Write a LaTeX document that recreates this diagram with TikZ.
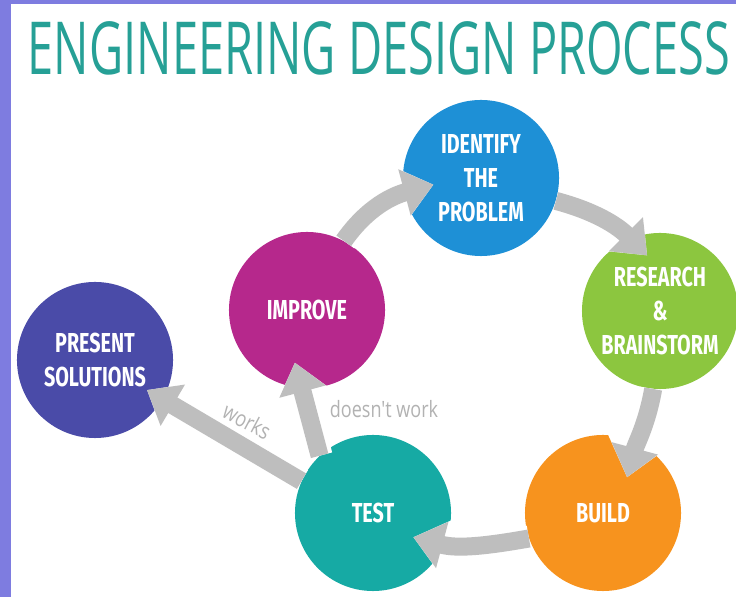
\documentclass[tikz,border=0pt]{standalone}
\usepackage{fontspec}
\usepackage{xcolor}
\usepackage{graphicx}
\usetikzlibrary{arrows.meta,calc}
\newfontfamily\stagefont{Fira Sans}[FakeStretch=0.72]
\newfontfamily\notefont{Open Sans}[FakeStretch=0.8]
\newfontfamily\headfont{Open Sans}
\definecolor{framepurple}{RGB}{126,124,224}
\definecolor{headteal}{RGB}{38,160,150}
\definecolor{flowgray}{RGB}{190,190,190}
\definecolor{notegray}{RGB}{178,178,178}
\definecolor{presentcol}{RGB}{74,75,168}
\definecolor{improvecol}{RGB}{182,40,140}
\definecolor{identifycol}{RGB}{30,144,214}
\definecolor{researchcol}{RGB}{140,198,63}
\definecolor{buildcol}{RGB}{247,147,30}
\definecolor{testcol}{RGB}{22,170,164}

\begin{document}
\begin{tikzpicture}[x=0.025cm, y=0.025cm,
  stage/.style={circle, minimum size=3.9cm, inner sep=0pt, text=white, align=center,
    font=\stagefont\bfseries\fontsize{19.5}{24}\selectfont},
  flow/.style={draw=flowgray, line width=0.45cm, -{Triangle[length=0.75cm,width=1.15cm]},
    preaction={draw=white, line width=0.65cm, -{Triangle[length=1.0cm,width=1.55cm]}}},
  note/.style={text=notegray, font=\notefont\fontsize{16}{18}\selectfont}]
\useasboundingbox (0,0) rectangle (736,597);
\fill[white] (0,0) rectangle (736,597);
\fill[framepurple] (0,0) rectangle (11,597);
\fill[framepurple] (0,593) rectangle (736,597);
\node[inner sep=0pt, text=headteal] (title) at (379,549) {\resizebox{17.55cm}{1.325cm}{\headfont ENGINEERING DESIGN PROCESS}};

\node[stage, fill=presentcol] (present) at (95,237) {PRESENT\\SOLUTIONS};
\node[stage, fill=improvecol] (improve) at (307,287) {IMPROVE};
\node[stage, fill=identifycol] (identify) at (481,419) {IDENTIFY\\THE\\PROBLEM};
\node[stage, fill=researchcol] (research) at (660,286) {RESEARCH\\\&\\BRAINSTORM};
\node[stage, fill=buildcol] (build) at (603,84) {BUILD};
\node[stage, fill=testcol] (test) at (373,84) {TEST};

\draw[flow] (improve.62) to[out=55, in=195] ($(identify)+(188:48)$);
\draw[flow] (identify.-17) to[out=-15, in=135] ($(research)+(103:57)$);
\draw[flow] (research.-95) to[out=-100, in=75] ($(build)+(56:43)$);
\draw[flow] (build.199) to[out=190, in=-15] ($(test)+(-31:47)$);
\draw[flow] (test.133) -- ($(improve)+(257:54)$);
\draw[flow] (test.156) -- ($(present)+(-30:60)$);

\node[note, rotate=-28] (works) at (247,176) {works};
\node[note] (fails) at (384,188) {doesn't work};
\end{tikzpicture}
\end{document}
